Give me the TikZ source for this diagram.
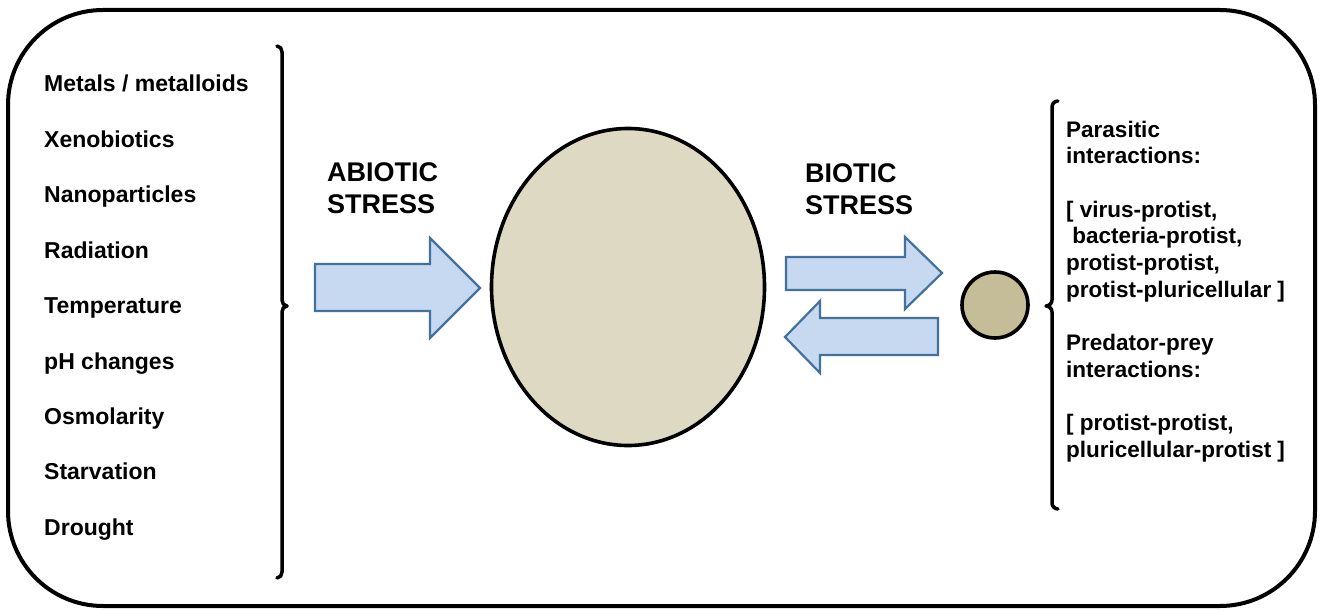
\documentclass[tikz,border=0pt]{standalone}
\usepackage{fontspec}
\setmainfont{Liberation Sans}
\usetikzlibrary{shapes.geometric}
\definecolor{arrowfill}{HTML}{C6D9F1}
\definecolor{arrowdraw}{HTML}{41719C}
\definecolor{cellfill}{HTML}{DDD9C3}
\definecolor{smallfill}{HTML}{C4BD97}
\begin{document}
\begin{tikzpicture}[x=1pt,y=-1pt,
  lbl/.style={inner sep=0pt, anchor=base west, font=\fontsize{22.5}{27}\selectfont\bfseries},
  listlbl/.style={lbl, font=\fontsize{23}{27}\selectfont\bfseries},
  stresslbl/.style={inner sep=0pt, anchor=base west, align=left, font=\fontsize{27}{31.5}\selectfont\bfseries},
  blockarrow/.style={fill=arrowfill, draw=arrowdraw, line width=2.2pt, line join=miter},
  brace/.style={line width=3.5pt, line cap=round, line join=round}]
\useasboundingbox (0,0) rectangle (1323,610);
% outer frame
\draw[line width=4pt, rounded corners=95pt] (8,10) rectangle (1315,606);
% left list
\foreach \t [count=\i] in {Metals / metalloids, Xenobiotics, Nanoparticles, Radiation, Temperature, pH changes, Osmolarity, Starvation, Drought}
  \node[listlbl] (l\i) at (44, {92+(\i-1)*55.4}) {\t};
% left brace
\draw[brace] (277,46) to[out=0,in=90] (282,52) -- (282,300) to[out=-90,in=180] (287,306)
  to[out=180,in=90] (282,312) -- (282,572) to[out=-90,in=0] (277,578);
% abiotic arrow
\draw[blockarrow] (315,264) -- (430,264) -- (430,238) -- (480,288) -- (430,338) -- (430,311) -- (315,311) -- cycle;
\node[stresslbl] (abiotic) at (327,213) {ABIOTIC\\STRESS};
% main cell
\node[ellipse, draw, line width=3.6pt, fill=cellfill, minimum width=273pt, minimum height=317pt, inner sep=0pt] (cell) at (628,287) {};
% biotic arrows
\draw[blockarrow] (786,257) -- (905,257) -- (905,237) -- (942,273) -- (905,309) -- (905,290) -- (786,290) -- cycle;
\draw[blockarrow] (938,318) -- (820,318) -- (820,301) -- (785,337) -- (820,373) -- (820,355) -- (938,355) -- cycle;
\node[stresslbl] (biotic) at (805,214) {BIOTIC\\STRESS};
% small organism
\node[circle, draw, line width=3.6pt, fill=smallfill, minimum size=66pt, inner sep=0pt] (small) at (995,305) {};
% right brace
\draw[brace] (1058,101) to[out=180,in=90] (1052,107) -- (1052,300) to[out=-90,in=0] (1046,306)
  to[out=0,in=90] (1052,312) -- (1052,503) to[out=-90,in=180] (1058,509);
% right text
\node[lbl] (r1) at (1066,137) {Parasitic};
\node[lbl] (r2) at (1066,163.7) {interactions:};
\node[lbl] (r3) at (1066,217) {[ virus-protist,};
\node[lbl] (r4) at (1066,243.8) {\ bacteria-protist,};
\node[lbl] (r5) at (1066,270.5) {protist-protist,};
\node[lbl] (r6) at (1066,297) {protist-pluricellular ]};
\node[lbl] (r7) at (1066,350.6) {Predator-prey};
\node[lbl] (r8) at (1066,377) {interactions:};
\node[lbl] (r9) at (1066,430.7) {[ protist-protist,};
\node[lbl] (r10) at (1066,457.4) {pluricellular-protist ]};
\end{tikzpicture}
\end{document}
